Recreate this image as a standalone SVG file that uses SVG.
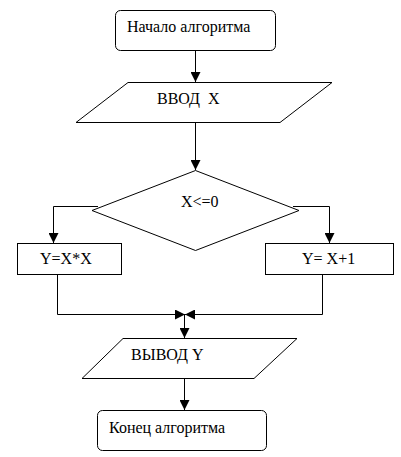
<svg xmlns="http://www.w3.org/2000/svg" width="401" height="457" viewBox="0 0 401 457">
<style>
.s{fill:#fff;stroke:#000;stroke-width:1}
.t{font-family:"Liberation Serif","Times New Roman",serif;font-size:16px;fill:#000}
.c{fill:none;stroke:#000;stroke-width:1}
</style>
<defs>
<marker id="a" viewBox="0 0 10 10" refX="10" refY="5" markerWidth="10" markerHeight="10" markerUnits="userSpaceOnUse" orient="auto">
<path d="M0,0L10,5L0,10z" fill="#000"/>
</marker>
</defs>
<rect width="401" height="457" fill="#fff"/>
<g id="connectors">
<path class="c" d="M195.5,50V82" marker-end="url(#a)"/>
<path class="c" d="M195.5,122V170" marker-end="url(#a)"/>
<path class="c" d="M98,206.5H53.5V243" marker-end="url(#a)"/>
<path class="c" d="M293,206.5H329.5V243" marker-end="url(#a)"/>
<path class="c" d="M57.5,274V314.5H185" marker-end="url(#a)"/>
<path class="c" d="M322.5,274V314.5H185" marker-end="url(#a)"/>
<path class="c" d="M184.5,314.5V338" marker-end="url(#a)"/>
<path class="c" d="M184.5,378V410" marker-end="url(#a)"/>
</g>
<g id="start">
<rect class="s" x="115.5" y="10.5" width="160" height="40" rx="5"/>
<text class="t" x="127" y="32">Начало алгоритма</text>
</g>
<g id="input">
<polygon class="s" points="128,82.5 332,82.5 280,122.5 76,122.5"/>
<text class="t" x="157" y="104" xml:space="preserve">ВВОД  X</text>
</g>
<g id="decision">
<polygon class="s" points="195.5,170.5 299,210.5 195.5,250.5 92,210.5"/>
<text class="t" x="181" y="207">X&lt;=0</text>
</g>
<g id="left">
<rect class="s" x="17.5" y="243.5" width="104" height="31"/>
<text class="t" x="40" y="264">Y=X*X</text>
</g>
<g id="right">
<rect class="s" x="265.5" y="243.5" width="128" height="31"/>
<text class="t" x="302" y="264">Y= X+1</text>
</g>
<g id="output">
<polygon class="s" points="123,338.5 297,338.5 254,378.5 82,378.5"/>
<text class="t" x="131" y="360">ВЫВОД Y</text>
</g>
<g id="end">
<rect class="s" x="97.5" y="410.5" width="169" height="40" rx="5"/>
<text class="t" x="109" y="433">Конец алгоритма</text>
</g>
</svg>
